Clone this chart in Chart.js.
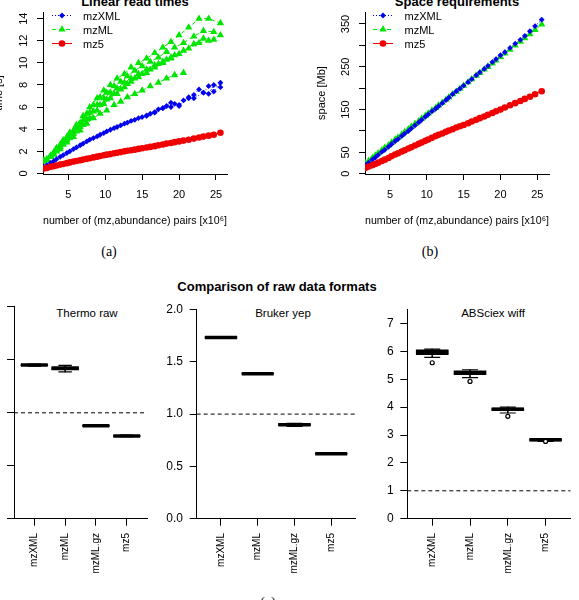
<!DOCTYPE html>
<html>
<head>
<meta charset="utf-8">
<script src="https://cdn.jsdelivr.net/npm/chart.js@4.4.1/dist/chart.umd.min.js"></script>
<style>
html, body { margin: 0; padding: 0; background: #fff; }
body { width: 579px; height: 600px; position: relative; overflow: hidden; font-family: 'Liberation Sans', Arial, sans-serif; color: #000; }
canvas { position: absolute; }
.txt { position: absolute; white-space: nowrap; transform: translate(-50%, -50%); line-height: 1; }
.title { font-weight: bold; font-size: 13px; }
.cap { font-family: 'Liberation Serif', serif; font-size: 14px; }
.sub { font-size: 11.5px; }
.leg { position: absolute; font-size: 11px; white-space: nowrap; line-height: 1; transform: translateY(-50%); }
svg.sym { position: absolute; transform: translateY(-50%); overflow: visible; }
</style>
</head>
<body>

<div class="txt title" style="left:135px;top:0.5px">Linear read times</div>
<div class="txt title" style="left:457px;top:0.5px">Space requirements</div>
<div class="txt cap" style="left:109px;top:252px">(a)</div>
<div class="txt cap" style="left:430px;top:252px">(b)</div>
<div class="txt title" style="left:277px;top:285.5px">Comparison of raw data formats</div>
<div class="txt sub" style="left:87px;top:314px">Thermo raw</div>
<div class="txt sub" style="left:283px;top:313.5px">Bruker yep</div>
<div class="txt sub" style="left:493px;top:314px">ABSciex wiff</div>
<div class="txt cap" style="left:268px;top:603px">(c)</div>

<script>
Chart.defaults.font.family = "'Liberation Sans', Arial, sans-serif";
Chart.defaults.color = '#000';

// number of (mz,abundance) pairs [x10^6] for each test file
const pairs = [1.7, 2.1, 2.6, 3.0, 3.4, 3.9, 4.3, 4.8, 5.2, 5.7, 6.1, 6.6, 7.0, 7.5, 7.9, 8.4, 8.9, 9.3, 9.8, 10.2,
  10.7, 11.2, 11.6, 12.1, 12.6, 13.0, 13.5, 14.0, 14.5, 15.0, 15.6, 16.1, 16.7, 17.2, 17.8, 18.3, 18.9, 19.4,
  20.0, 20.6, 21.3, 22.0, 22.7, 23.3, 24.0, 24.7, 25.6];
const pairsA = [1.7, 2.6, 3.4, 4.3, 5.2, 6.1, 7.0, 7.9, 8.9, 9.8, 10.7, 11.6, 12.6, 13.5, 14.5, 15.6, 16.7, 17.8,
  18.9, 20.0, 21.3, 22.7, 24.0, 25.6];
const pairsB = [2.1, 3.0, 3.9, 4.8, 5.7, 6.6, 7.5, 8.4, 9.3, 10.2, 11.2, 12.1, 13.0, 14.0, 15.0, 16.1, 17.2, 18.3,
  19.4, 20.6, 22.0, 23.3, 24.7];
const pairsLate = [15.6, 16.7, 17.8, 18.9, 20.0, 21.3, 22.0, 23.3, 24.0, 24.7, 25.6];

// (a) read times [s]
const timeMzXML = [0.6, 0.75, 0.95, 1.1, 1.3, 1.5, 1.65, 1.85, 2.0, 2.2, 2.35, 2.55, 2.7, 2.9, 3.05, 3.2, 3.35, 3.5,
  3.65, 3.8, 3.95, 4.1, 4.2, 4.35, 4.5, 4.6, 4.75, 4.85, 5.0, 5.1, 5.25, 5.4, 5.55, 5.8, 5.9, 6.1, 6.0, 6.3,
  6.2, 6.6, 6.8, 7.1, 7.6, 7.3, 7.9, 7.4, 8.2];
const timeMzXMLLate = [5.2, 5.5, 5.9, 6.4, 6.1, 6.9, 6.8, 7.3, 7.2, 8.0, 7.8];
const timeMzMLRun1 = [1.2, 1.6, 2.3, 3.0, 3.7, 4.4, 5.2, 6.0, 6.8, 7.5, 8.0, 8.6, 9.0, 9.6, 10.0, 10.4, 10.9, 11.4,
  11.9, 12.5, 13.2, 14.0, 14.0, 13.6];
const timeMzMLRun2 = [1.3, 1.9, 2.6, 3.3, 3.9, 4.6, 5.4, 6.2, 6.9, 7.3, 7.9, 8.3, 8.8, 9.3, 9.7, 10.1, 10.5, 11.0,
  11.4, 11.8, 12.4, 12.9, 12.8];
const timeMzMLRun3 = [1.1, 1.5, 2.0, 2.6, 3.2, 3.8, 4.4, 5.0, 5.7, 6.3, 6.8, 7.2, 7.8, 8.3, 8.7, 9.1, 9.6, 10.0,
  10.4, 10.8, 11.3, 11.8, 12.0, 12.5];
const timeMzMLRun4 = [1.2, 1.7, 2.2, 2.8, 3.3, 3.9, 4.5, 5.0, 5.4, 5.7, 6.2, 6.5, 6.9, 7.2, 7.5, 7.9, 8.2, 8.6,
  8.9, 9.1];
const timeMzMLRun5 = [1.2, 1.8, 2.4, 3.0, 3.6, 4.2, 4.9, 5.6, 6.2, 6.7, 7.2, 7.6, 8.1, 8.6, 9.0, 9.4, 9.9, 10.3,
  10.7, 11.1, 11.7, 12.2, 12.1];
const timeMzMLRun6 = [1.1, 1.6, 2.1, 2.8, 3.4, 4.1, 4.8, 5.5, 6.2, 6.8, 7.3, 7.7, 8.2, 8.6, 9.0, 9.4, 9.8, 10.1,
  10.5];
const timeMz5 = [0.45, 0.5, 0.6, 0.65, 0.72, 0.8, 0.85, 0.93, 1.0, 1.07, 1.12, 1.2, 1.25, 1.32, 1.38, 1.45, 1.52,
  1.58, 1.64, 1.7, 1.75, 1.82, 1.87, 1.93, 2.0, 2.05, 2.1, 2.15, 2.22, 2.28, 2.35, 2.4, 2.47, 2.55, 2.62, 2.7,
  2.76, 2.83, 2.9, 2.97, 3.05, 3.15, 3.25, 3.33, 3.42, 3.5, 3.68];

// (b) space [Mb]
const spaceMzXML = [21, 26, 33, 38, 44, 51, 56, 63, 69, 76, 81, 88, 94, 100, 106, 113, 120, 126, 133, 139, 146, 152,
  158, 165, 172, 178, 186, 193, 199, 206, 214, 221, 230, 237, 245, 252, 261, 268, 277, 284, 294, 304, 313, 322,
  333, 345, 360];
const spaceMzML = [25, 30, 37, 43, 48, 55, 61, 67, 73, 80, 85, 92, 98, 104, 110, 117, 123, 129, 136, 141, 148, 154,
  160, 166, 173, 179, 186, 192, 199, 206, 214, 221, 229, 236, 244, 250, 258, 265, 273, 281, 290, 300, 309, 317,
  326, 336, 349];
const spaceMz5 = [14, 17, 20, 23, 26, 30, 33, 37, 41, 45, 48, 52, 55, 59, 62, 66, 70, 73, 77, 80, 84, 88, 91, 94, 98,
  101, 104, 108, 111, 114, 118, 122, 126, 130, 134, 138, 142, 146, 150, 155, 160, 165, 170, 175, 180, 186, 193];

const pairTicks = [5, 10, 15, 20, 25];
const timeTicks = [0, 2, 4, 6, 8, 10, 12, 14];
const spaceTicks = [0, 50, 100, 150, 200, 250, 300, 350];
const spaceTickLabels = [0, 50, 150, 250, 350];

// (c) relative size compared to the raw vendor file, per format
const formats = ['mzXML', 'mzML', 'mzML.gz', 'mz5'];
const thermoLo = [1.44, 1.387, 0.872, 0.775];
const thermoQ1 = [1.446, 1.405, 0.874, 0.778];
const thermoMed = [1.451, 1.42, 0.878, 0.782];
const thermoQ3 = [1.456, 1.435, 0.882, 0.786];
const thermoHi = [1.46, 1.448, 0.884, 0.789];
const brukerLo = [1.725, 1.383, 0.882, 0.618];
const brukerQ1 = [1.727, 1.384, 0.89, 0.619];
const brukerMed = [1.733, 1.386, 0.899, 0.621];
const brukerQ3 = [1.739, 1.388, 0.91, 0.623];
const brukerHi = [1.742, 1.389, 0.912, 0.624];
const sciexLo = [5.78, 5.06, 3.79, 2.77];
const sciexQ1 = [5.88, 5.16, 3.87, 2.79];
const sciexMed = [5.97, 5.22, 3.92, 2.83];
const sciexQ3 = [6.05, 5.3, 3.97, 2.86];
const sciexHi = [6.08, 5.34, 4.0, 2.87];
const sciexOut = [5.59, 4.92, 3.67, 2.77];
const ratioTicks = [0, 0.5, 1.0, 1.5, 2.0];
const sciexTicks = [0, 1, 2, 3, 4, 5, 6, 7];

const BLUE = '#0000f0', GREEN = '#00e600', RED = '#f00000';

// ---- helpers
function makeCanvas(x, y, w, h) {
  const c = document.createElement('canvas');
  c.width = w; c.height = h;
  c.style.left = x + 'px'; c.style.top = y + 'px';
  c.style.width = w + 'px'; c.style.height = h + 'px';
  document.body.appendChild(c);
  return c;
}

function xy(xs, ys) {
  return ys.map((v, i) => ({ x: xs[i], y: v }));
}

function setTicks(values) {
  return scale => { scale.ticks = values.map(v => ({ value: v })); };
}

const axisGrid = { display: true, drawOnChartArea: false, drawTicks: true, tickLength: 6, color: '#000', lineWidth: 1 };
const axisBorder = { display: true, color: '#000', width: 1 };

// R style y labels, parallel to the axis
const rotatedYLabels = {
  id: 'rotatedYLabels',
  afterDraw(chart, args, opts) {
    if (!opts.labels) return;
    const s = chart.scales.y, ctx = chart.ctx;
    ctx.save();
    ctx.font = '11px ' + Chart.defaults.font.family;
    ctx.fillStyle = '#000';
    ctx.textAlign = 'center';
    ctx.textBaseline = 'middle';
    opts.labels.forEach(v => {
      ctx.save();
      ctx.translate(chart.chartArea.left - opts.offset, s.getPixelForValue(v));
      ctx.rotate(-Math.PI / 2);
      ctx.fillText(String(v), 0, 0);
      ctx.restore();
    });
    ctx.restore();
  }
};

// dashed reference line at ratio 1
const refLine = {
  id: 'refLine',
  beforeDatasetsDraw(chart, args, opts) {
    if (opts.value === undefined) return;
    const a = chart.chartArea, ctx = chart.ctx;
    const y = chart.scales.y.getPixelForValue(opts.value);
    ctx.save();
    ctx.strokeStyle = '#000';
    ctx.lineWidth = 1;
    ctx.setLineDash([4, 3]);
    ctx.beginPath();
    ctx.moveTo(a.left, y);
    ctx.lineTo(a.right, y);
    ctx.stroke();
    ctx.restore();
  }
};

function series(xs, ys, kind, order) {
  const st = {
    mzXML: { color: BLUE, dash: [1, 2], point: 'rectRot', r: 2.9 },
    mzML: { color: GREEN, dash: [4, 3], point: 'triangle', r: 4.2 },
    mz5: { color: RED, dash: [], point: 'circle', r: 3.3 }
  }[kind];
  return {
    type: 'line', data: xy(xs, ys), order: order,
    borderColor: st.color, borderWidth: 1, borderDash: st.dash,
    pointStyle: st.point, pointRadius: st.r, pointBackgroundColor: st.color,
    pointBorderWidth: 0, tension: 0
  };
}

// top scatter panels
function lineChart(box, area, padL, datasets, xRange, yRange, yTicks, yLabels, yTitle) {
  const c = makeCanvas(box.x, box.y, box.w, box.h);
  return new Chart(c, {
    type: 'line',
    data: { datasets: datasets },
    plugins: [rotatedYLabels],
    options: {
      responsive: false, animation: false, devicePixelRatio: 1,
      layout: { padding: { left: padL, top: area.t - box.y, right: box.x + box.w - area.r, bottom: 0 } },
      plugins: {
        legend: { display: false }, tooltip: { enabled: false },
        rotatedYLabels: { labels: yLabels, offset: 19 }
      },
      scales: {
        x: {
          type: 'linear', min: xRange[0], max: xRange[1],
          afterBuildTicks: setTicks(pairTicks),
          afterFit: s => { s.height = box.y + box.h - area.b; },
          grid: axisGrid, border: axisBorder,
          ticks: { font: { size: 11 }, padding: 8.4, maxRotation: 0, autoSkip: false },
          title: { display: true, text: 'number of (mz,abundance) pairs [x10\u2076]', font: { size: 11 }, padding: { top: 4, bottom: 4 } }
        },
        y: {
          type: 'linear', min: yRange[0], max: yRange[1],
          afterBuildTicks: setTicks(yTicks),
          afterFit: s => { s.width = area.l - box.x - padL; },
          grid: axisGrid, border: axisBorder,
          ticks: { display: false },
          title: { display: true, text: yTitle, font: { size: 11 }, padding: { top: 4, bottom: 4 } }
        }
      }
    }
  });
}

// bottom box plot panels
function boxChart(box, area, lo, q1, med, q3, hi, outliers, yMax, yTicks, decimals) {
  const c = makeCanvas(box.x, box.y, box.w, box.h);
  const pos = formats.map((f, i) => i + 1);
  const unit = (area.r - area.l) / (4.66 - 0.34);
  const w = 0.8 * unit;
  const datasets = [
    { type: 'bar', data: pos.map((x, i) => ({ x: x, y: [lo[i], q1[i]] })), barThickness: 1, backgroundColor: '#000', grouped: false, order: 5 },
    { type: 'bar', data: pos.map((x, i) => ({ x: x, y: [q3[i], hi[i]] })), barThickness: 1, backgroundColor: '#000', grouped: false, order: 5 },
    { type: 'bar', data: pos.map((x, i) => ({ x: x, y: [q1[i], q3[i]] })), barThickness: w, backgroundColor: '#000', grouped: false, order: 4 },
    { type: 'line', showLine: false, data: pos.map((x, i) => ({ x: x, y: med[i] })), pointStyle: 'line', pointRadius: w / 2, pointBorderWidth: 3.5, pointBorderColor: '#000', order: 3 },
    { type: 'line', showLine: false, data: pos.map((x, i) => ({ x: x, y: lo[i] })).concat(pos.map((x, i) => ({ x: x, y: hi[i] }))), pointStyle: 'line', pointRadius: w / 4, pointBorderWidth: 1.2, pointBorderColor: '#000', order: 2 }
  ];
  if (outliers) {
    datasets.push({ type: 'line', showLine: false, data: pos.map((x, i) => ({ x: x, y: outliers[i] })), pointStyle: 'circle', pointRadius: 2, pointBackgroundColor: '#fff', pointBorderColor: '#000', pointBorderWidth: 1.2, order: 1 });
  }
  return new Chart(c, {
    type: 'bar',
    data: { datasets: datasets },
    plugins: [refLine],
    options: {
      responsive: false, animation: false, devicePixelRatio: 1,
      layout: { padding: { left: 0, top: area.t - box.y, right: box.x + box.w - area.r, bottom: 0 } },
      plugins: { legend: { display: false }, tooltip: { enabled: false }, refLine: { value: 1 } },
      scales: {
        x: {
          type: 'linear', min: 0.34, max: 4.66, offset: false,
          afterBuildTicks: setTicks(pos),
          afterFit: s => { s.height = box.y + box.h - area.b; },
          grid: Object.assign({}, axisGrid, { tickLength: 7, offset: false }), border: axisBorder,
          ticks: { font: { size: 10 }, padding: 7.3, minRotation: 90, maxRotation: 90, autoSkip: false,
            callback: v => formats[v - 1] }
        },
        y: {
          type: 'linear', min: 0, max: yMax,
          afterBuildTicks: setTicks(yTicks),
          afterFit: s => { s.width = area.l - box.x; },
          grid: Object.assign({}, axisGrid, { tickLength: 7 }), border: axisBorder,
          ticks: { font: { size: 12 }, padding: 6.7, callback: v => v.toFixed(decimals) }
        }
      }
    }
  });
}

// (a) linear read times
lineChart({ x: -12, y: 0, w: 260, h: 232 }, { l: 43, t: 12, r: 227, b: 174 }, 0, [
  series(pairsA, timeMzMLRun1, 'mzML', 3),
  series(pairsB, timeMzMLRun2, 'mzML', 3),
  series(pairsA, timeMzMLRun3, 'mzML', 3),
  series(pairsB, timeMzMLRun4, 'mzML', 3),
  series(pairsB, timeMzMLRun5, 'mzML', 3),
  series(pairsA, timeMzMLRun6, 'mzML', 3),
  series(pairs, timeMzXML, 'mzXML', 2),
  series(pairsLate, timeMzXMLLate, 'mzXML', 2),
  series(pairs, timeMz5, 'mz5', 1)
], [1.57, 26.49], [-0.05, 14.6], timeTicks, timeTicks, 'time [s]');

// (b) space requirements
lineChart({ x: 290, y: 0, w: 275, h: 232 }, { l: 365, t: 12, r: 549, b: 174 }, 21, [
  series(pairs, spaceMzML, 'mzML', 3),
  series(pairs, spaceMzXML, 'mzXML', 2),
  series(pairs, spaceMz5, 'mz5', 1)
], [1.61, 26.59], [-0.5, 378], spaceTicks, spaceTickLabels, 'space [Mb]');

// (c) comparison of raw data formats
boxChart({ x: -50, y: 290, w: 214, h: 310 }, { l: 14, t: 303.3, r: 159, b: 518.7 },
  thermoLo, thermoQ1, thermoMed, thermoQ3, thermoHi, null, 2, ratioTicks, 1);
boxChart({ x: 150, y: 290, w: 225, h: 310 }, { l: 196.7, t: 303.3, r: 369.7, b: 518.7 },
  brukerLo, brukerQ1, brukerMed, brukerQ3, brukerHi, null, 2, ratioTicks, 1);
boxChart({ x: 365, y: 290, w: 225, h: 310 }, { l: 407.3, t: 303.3, r: 580, b: 518.7 },
  sciexLo, sciexQ1, sciexMed, sciexQ3, sciexHi, sciexOut, 7.5, sciexTicks, 0);

// legends of the top panels
function legend(lineX, textX, rows) {
  const svgNS = 'http://www.w3.org/2000/svg';
  const sym = {
    mzXML: { color: BLUE, dash: '1,2', shape: c => `<path d="M${c},-2.9 L${c + 2.9},0 L${c},2.9 L${c - 2.9},0 Z" fill="${BLUE}"/>` },
    mzML: { color: GREEN, dash: '4,3', shape: c => `<path d="M${c},-4.2 L${c + 3.6},2.1 L${c - 3.6},2.1 Z" fill="${GREEN}"/>` },
    mz5: { color: RED, dash: '', shape: c => `<circle cx="${c}" cy="0" r="3.3" fill="${RED}"/>` }
  };
  formats.filter(f => f !== 'mzML.gz').forEach((name, i) => {
    const y = rows[i], s = sym[name];
    const svg = document.createElementNS(svgNS, 'svg');
    svg.setAttribute('class', 'sym');
    svg.setAttribute('width', '20');
    svg.setAttribute('height', '1');
    svg.style.left = lineX + 'px';
    svg.style.top = y + 'px';
    svg.innerHTML = `<line x1="0" y1="0" x2="20" y2="0" stroke="${s.color}" stroke-width="1" stroke-dasharray="${s.dash}"/>` + s.shape(10);
    document.body.appendChild(svg);
    const t = document.createElement('div');
    t.className = 'leg';
    t.style.left = textX + 'px';
    t.style.top = y + 'px';
    t.textContent = name;
    document.body.appendChild(t);
  });
}
legend(52, 83, [16, 30, 43.5]);
legend(373, 404.5, [16, 30, 43.5]);
</script>
</body>
</html>
